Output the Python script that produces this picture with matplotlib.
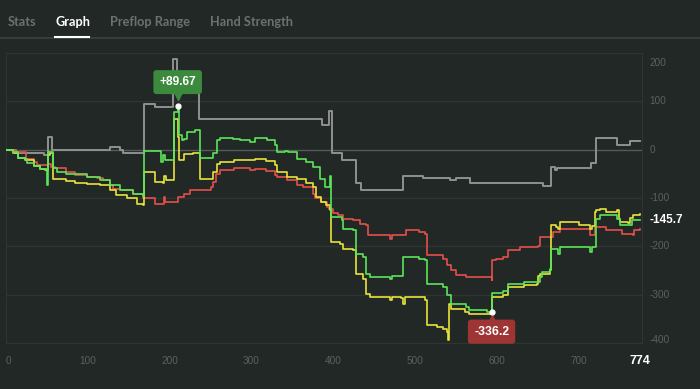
import matplotlib
matplotlib.use('Agg')
import matplotlib.pyplot as plt
from matplotlib.lines import Line2D
from matplotlib.transforms import offset_copy

# chart data (hand number, winnings)
gray_x = [0, 13, 47, 52, 57, 127, 139, 143, 169, 182, 204, 209, 236, 385.5, 394.5,
          397.7, 411, 427, 433, 485, 509, 542, 550, 566.5, 656, 666, 670, 673, 714,
          720, 745.6, 761.8, 774]
gray_y = [0, -8, -12, 26, -1, 5, -1, -7, 95, 88, 186, 140, 64, 50, 79,
          -7, -22, -68, -84, -55, -58, -62, -59, -69, -75, -35, -43, -38, -28,
          23, 10, 17, 17]

green_x = [0, 9, 15, 23, 26, 34, 42, 48, 50, 52, 54, 58, 62, 74, 85, 99, 115, 127,
           139, 155, 168, 169, 180, 190, 192, 194, 204, 205, 208, 210, 211.5, 215,
           218, 221, 229, 231, 237, 251, 252.5, 258, 261.4, 277.7, 285.8, 298, 304,
           318.4, 328.6, 330.6, 340.8, 344.8, 355, 367, 375.3, 383.5, 389.6, 395.7,
           397, 410, 412, 424, 428, 436, 440, 444.5, 469, 472, 483, 485, 505, 512,
           514, 534, 538, 544, 562, 566, 587, 593, 593.5, 607, 613, 632, 652, 654,
           664, 666, 674, 676, 713, 715, 721, 725, 746, 750, 764, 774]
green_y = [0, -5, -17, -20, -28, -33, -40, -40, -74, -5, -5, -39, -46, -50, -51, -57,
           -63, -74, -84, -91, -96, -2, -2, -25, -12, -22, -22, 78, 78, 89.67, 30, 19,
           22, 36, 36, 40, -17, -17, -8, 19, 23, 22, 19, 16, 23,
           19, 9, -5, -3, -5, -19, -25, -36, -60, -77, -55,
           -140, -146, -163, -167, -215, -222, -256, -263, -268, -262, -262, -222,
           -225, -229, -277, -284, -300, -318, -325, -332, -335, -336.2, -297, -291,
           -277, -274, -263, -253, -246, -205, -215, -201, -212, -201, -143, -136,
           -143, -156, -146, -145.7]

yellow_x = [0, 9, 15, 23, 34, 42, 48, 51, 54, 58, 74, 84, 99, 115, 127, 135, 148,
            160, 168, 169, 180, 182, 192, 193, 195, 204, 205, 208, 210, 212, 218,
            228, 237, 251, 253, 258, 262, 278, 298, 304, 318, 329, 331, 343, 355,
            367, 375, 379, 385, 391, 396, 397, 408, 412, 424, 428, 436, 440, 444.5,
            469, 472, 483, 485, 487, 512, 514, 526, 534, 538, 540, 541, 544, 560,
            566, 587, 592, 593, 607, 613, 632, 648, 650, 652, 660, 664, 666, 672,
            674, 676, 700, 713, 715, 719, 721, 725, 733, 746, 748, 750, 760, 762,
            766, 774]
yellow_y = [0, -8, -18, -22, -34, -41, -42, -12, -8, -60, -65, -70, -72, -74, -84,
            -94, -101, -112, -115, -46, -46, -67, -70, -55, -63, -63, 64, 64, 26,
            -22, -10, -8, -60, -60, -46, -29, -25, -21, -21, -19, -23, -32, -46,
            -57, -60, -70, -77, -98, -108, -115, -125, -191, -194, -205, -208, -256,
            -267, -298, -305, -311, -305, -307, -318, -305, -311, -362, -366, -370,
            -377, -393, -318, -330, -335, -339, -339, -335, -305, -301, -284, -280,
            -277, -262, -256, -256, -249, -156, -160, -165, -150, -156, -163, -157,
            -129, -125, -122, -129, -125, -143, -150, -152, -142, -136, -133]

red_x = [0, 13, 25, 34, 38, 48, 52, 55, 60, 74, 84, 99, 111, 119, 127, 131, 139,
         155, 168, 180, 182, 192, 193, 194, 205, 210, 217, 225, 237, 251, 253, 257,
         261, 278, 298, 304, 318, 329, 331, 343, 355, 363, 375, 377, 385, 392, 394,
         400, 405, 412, 424, 432, 440, 442, 463, 469, 471, 485, 489, 505, 512, 514,
         534, 538, 544, 550, 562, 590, 593, 594, 599, 607, 613, 628, 650, 652, 666,
         668, 676, 713, 719, 733, 752, 766, 767, 774]
red_y = [0, -5, -19, -26, -32, -32, -29, -36, -39, -46, -53, -57, -58, -63, -74,
         -81, -84, -91, -99, -101, -112, -112, -98, -108, -108, -98, -91, -84, -84,
         -77, -67, -50, -43, -39, -43, -40, -44, -53, -57, -63, -74, -77, -91, -101,
         -108, -119, -122, -132, -136, -143, -146, -153, -156, -177, -177, -184,
         -177, -177, -167, -170, -174, -218, -225, -239, -249, -260, -263, -263,
         -270, -229, -225, -222, -208, -201, -200, -181, -181, -170, -163, -177,
         -160, -167, -174, -177, -167, -163]

xticks = [0, 100, 200, 300, 400, 500, 600, 700]
yticks = [200, 100, 0, -100, -200, -300, -400]
last_hand = 774
last_value = -145.7
peak = (209.8, 89.67)
low = (593, -336.2)

bg = '#222826'
tick_col = '#5c6160'
font = ['Liberation Sans', 'DejaVu Sans']

fig = plt.figure(figsize=(7, 3.89), dpi=100, facecolor=bg)
ax = fig.add_axes([5.8 / 700, 1 - 343.3 / 389, (642.3 - 5.8) / 700, (343.3 - 52.7) / 389])
ax.set_facecolor(bg)

# tabs
tabs = [('Stats', 8, '#6c7170'), ('Graph', 55, 'white'),
        ('Preflop Range', 110, '#6c7170'), ('Hand Strength', 210, '#6c7170')]
for label, px, col in tabs:
    fig.text(px / 700, 1 - 22.5 / 389, label, color=col, fontsize=9.2, fontweight='bold',
             va='center', ha='left', family=['Lato', 'DejaVu Sans'])
fig.add_artist(Line2D([0, 1], [1 - 38 / 389] * 2, color='#3a403e', lw=1.3))
fig.add_artist(Line2D([55 / 700, 89 / 700], [1 - 36.8 / 389] * 2, color='white', lw=1.5))

# grid
for v in yticks:
    if v == 0:
        ax.axhline(v, color='#555b59', lw=1, zorder=1)
    else:
        ax.axhline(v, color='#2f3533', lw=1, zorder=1)

ax.plot(gray_x, gray_y, drawstyle='steps-post', color='#8f9190', lw=1.4, zorder=2)
ax.plot(red_x, red_y, drawstyle='steps-post', color='#e5504c', lw=1.2, zorder=3)
ax.plot(yellow_x, yellow_y, drawstyle='steps-post', color='#e8e43a', lw=1.2, zorder=4)
ax.plot(green_x, green_y, drawstyle='steps-post', color='#5ae65a', lw=1.2, zorder=5)

ax.set_xlim(0, 777)
ax.set_ylim(-400, 200)
for s in ax.spines.values():
    s.set_color('#2f3533')

ax.set_xticks(xticks)
ax.set_xticklabels([str(t) for t in xticks], family=font, fontsize=7.2, color=tick_col)
ax.get_xticklabels()[0].set_ha('left')
ax.tick_params(axis='x', length=0, pad=9)
ax.set_yticks([])

# right-hand value labels
for v in yticks:
    dy = 0
    if v == 200:
        dy = -7.3
    elif v == -400:
        dy = 2.2
    ax.annotate(str(v), xy=(1, v), xycoords=('axes fraction', 'data'),
                xytext=(5, dy), textcoords='offset points', ha='left', va='center',
                fontsize=7.2, color=tick_col, family=font)

ax.annotate(str(last_hand), xy=(last_hand, -400), xytext=(0, -13), textcoords='offset points',
            ha='center', va='center', fontsize=9, fontweight='bold', color='white', family=font)
ax.annotate(str(last_value), xy=(1, last_value), xycoords=('axes fraction', 'data'),
            xytext=(5.5, 0), textcoords='offset points', ha='left', va='center',
            fontsize=8.5, fontweight='bold', color='white', family=font, annotation_clip=False)

# peak / low markers
green_box = '#3b8a3e'
red_box = '#9e3434'
ax.annotate('+%.2f' % peak[1], xy=peak, xytext=(0, 17.3), textcoords='offset points',
            ha='center', va='center', fontsize=8.6, fontweight='bold', color='white', family=font,
            bbox=dict(boxstyle='round,pad=0.5,rounding_size=0.25', fc=green_box, ec='none'),
            zorder=8, annotation_clip=False)
ax.plot(*peak, marker='v', ms=7, color=green_box, zorder=7,
        transform=offset_copy(ax.transData, fig=fig, x=0, y=7.9, units='points'))
ax.plot(*peak, 'o', color='white', ms=3.5, zorder=9)

ax.annotate('%.1f' % low[1], xy=low, xytext=(0, -13.9), textcoords='offset points',
            ha='center', va='center', fontsize=8.8, fontweight='bold', color='white', family=font,
            bbox=dict(boxstyle='round,pad=0.5,rounding_size=0.25', fc=red_box, ec='none'),
            zorder=8, annotation_clip=False)
ax.plot(*low, marker='^', ms=6, color=red_box, zorder=7,
        transform=offset_copy(ax.transData, fig=fig, x=0, y=-4.6, units='points'))
ax.plot(*low, 'o', color='white', ms=3.5, zorder=9)

fig.savefig('out.png', dpi=100, facecolor=bg)
